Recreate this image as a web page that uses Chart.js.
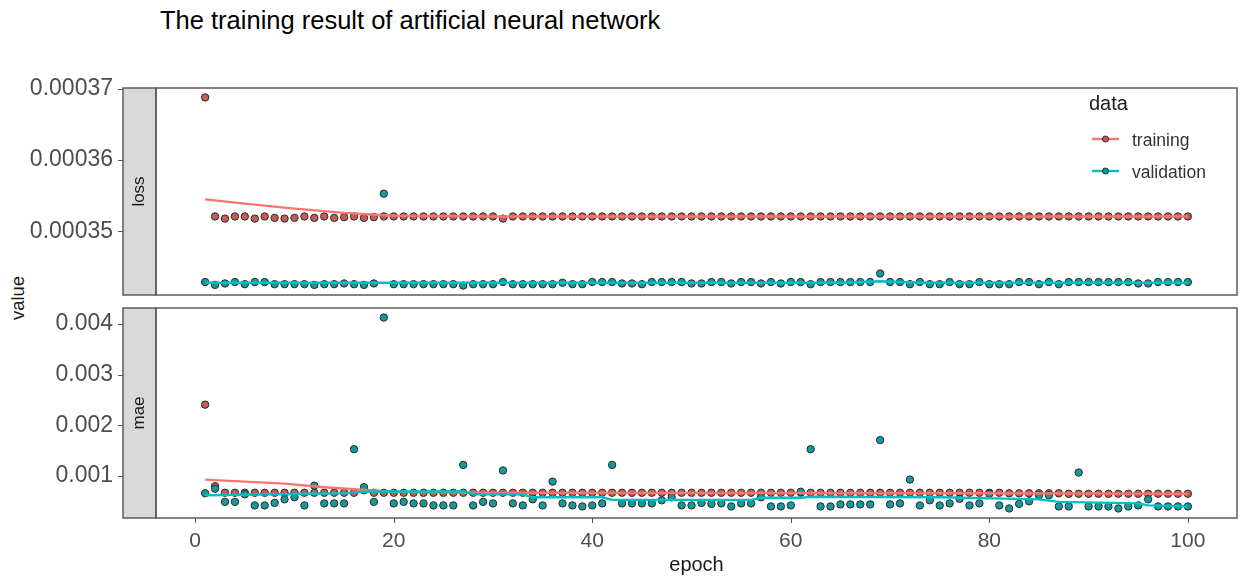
<!DOCTYPE html>
<html><head><meta charset="utf-8">
<script src="https://cdn.jsdelivr.net/npm/chart.js@4/dist/chart.umd.min.js"></script>
<style>
html,body{margin:0;padding:0;background:#fff;width:1242px;height:581px;overflow:hidden;font-family:"Liberation Sans",Arial,sans-serif;}
#title{position:absolute;left:160px;top:5px;font-size:25.5px;line-height:30px;color:#000;white-space:nowrap;}
#ylab{position:absolute;left:18px;top:298px;transform:translate(-50%,-50%) rotate(-90deg);font-size:18.5px;color:#1a1a1a;white-space:nowrap;}
#c1{position:absolute;left:0;top:0;}
#c2{position:absolute;left:0;top:300px;}
</style></head><body>
<div id="title">The training result of artificial neural network</div>
<div id="ylab">value</div>
<canvas id="c1" width="1242" height="300"></canvas>
<canvas id="c2" width="1242" height="281"></canvas>
<script>
const epochs = [1,2,3,4,5,6,7,8,9,10,11,12,13,14,15,16,17,18,19,20,
21,22,23,24,25,26,27,28,29,30,31,32,33,34,35,36,37,38,39,40,
41,42,43,44,45,46,47,48,49,50,51,52,53,54,55,56,57,58,59,60,
61,62,63,64,65,66,67,68,69,70,71,72,73,74,75,76,77,78,79,80,
81,82,83,84,85,86,87,88,89,90,91,92,93,94,95,96,97,98,99,100];

const seriesNames = ['training','validation'];
const panelNames = ['loss','mae'];
const xTicks = [0,20,40,60,80,100];
const lossTicks = [0.00035,0.00036,0.00037];
const lossTickLabels = ['0.00035','0.00036','0.00037'];
const maeTicks = [0.001,0.002,0.003,0.004];
const maeTickLabels = ['0.001','0.002','0.003','0.004'];

const trainLoss = [
0.0003688,0.0003521,0.0003518,0.0003521,0.0003521,0.0003518,0.0003521,0.0003519,0.0003518,0.0003519,
0.0003521,0.0003519,0.0003521,0.0003519,0.0003520,0.0003521,0.0003519,0.0003520,0.0003521,0.0003521,
0.0003521,0.0003521,0.0003521,0.0003521,0.0003521,0.0003521,0.0003521,0.0003521,0.0003521,0.0003521,
0.0003518,0.0003521,0.0003521,0.0003521,0.0003521,0.0003521,0.0003521,0.0003521,0.0003521,0.0003521,
0.0003521,0.0003521,0.0003521,0.0003521,0.0003521,0.0003521,0.0003521,0.0003521,0.0003521,0.0003521,
0.0003521,0.0003521,0.0003521,0.0003521,0.0003521,0.0003521,0.0003521,0.0003521,0.0003521,0.0003521,
0.0003521,0.0003521,0.0003521,0.0003521,0.0003521,0.0003521,0.0003521,0.0003521,0.0003521,0.0003521,
0.0003521,0.0003521,0.0003521,0.0003521,0.0003521,0.0003521,0.0003521,0.0003521,0.0003521,0.0003521,
0.0003521,0.0003521,0.0003521,0.0003521,0.0003521,0.0003521,0.0003521,0.0003521,0.0003521,0.0003521,
0.0003521,0.0003521,0.0003521,0.0003521,0.0003521,0.0003521,0.0003521,0.0003521,0.0003521,0.0003521];

const valLoss = [
0.0003429,0.0003425,0.0003427,0.0003429,0.0003426,0.0003429,0.0003429,0.0003426,0.0003426,0.0003426,
0.0003426,0.0003425,0.0003426,0.0003426,0.0003427,0.0003426,0.0003425,0.0003427,0.0003553,0.0003426,
0.0003426,0.0003426,0.0003426,0.0003426,0.0003426,0.0003426,0.0003424,0.0003426,0.0003426,0.0003426,
0.0003429,0.0003426,0.0003426,0.0003426,0.0003426,0.0003426,0.0003428,0.0003426,0.0003426,0.0003429,
0.0003429,0.0003429,0.0003427,0.0003427,0.0003426,0.0003429,0.0003429,0.0003429,0.0003429,0.0003427,
0.0003427,0.0003429,0.0003429,0.0003427,0.0003429,0.0003429,0.0003427,0.0003429,0.0003427,0.0003429,
0.0003429,0.0003426,0.0003429,0.0003429,0.0003429,0.0003429,0.0003429,0.0003429,0.0003441,0.0003429,
0.0003429,0.0003426,0.0003429,0.0003426,0.0003426,0.0003429,0.0003426,0.0003426,0.0003429,0.0003426,
0.0003426,0.0003426,0.0003429,0.0003429,0.0003426,0.0003429,0.0003426,0.0003429,0.0003429,0.0003429,
0.0003429,0.0003429,0.0003429,0.0003429,0.0003427,0.0003427,0.0003429,0.0003429,0.0003429,0.0003429];

const trainMae = [
0.00241,0.00080,0.00067,0.00067,0.00067,0.00067,0.00067,0.00067,0.00067,0.00067,
0.00067,0.00067,0.00067,0.00067,0.00067,0.00067,0.00072,0.00067,0.00067,0.00067,
0.00067,0.00067,0.00067,0.00067,0.00067,0.00067,0.00067,0.00067,0.00067,0.00067,
0.00067,0.00067,0.00067,0.00067,0.00067,0.00067,0.00067,0.00067,0.00067,0.00067,
0.00067,0.00067,0.00067,0.00067,0.00067,0.00067,0.00067,0.00067,0.00067,0.00067,
0.00067,0.00067,0.00067,0.00067,0.00067,0.00067,0.00067,0.00067,0.00067,0.00067,
0.00067,0.00067,0.00067,0.00067,0.00067,0.00067,0.00067,0.00067,0.00067,0.00067,
0.00067,0.00067,0.00067,0.00067,0.00067,0.00067,0.00067,0.00067,0.00067,0.00067,
0.00067,0.00066,0.00066,0.00066,0.00066,0.00066,0.00066,0.00065,0.00065,0.00065,
0.00065,0.00065,0.00065,0.00065,0.00065,0.00065,0.00065,0.00065,0.00065,0.00065];

const valMae = [
0.00066,0.00075,0.00049,0.00049,0.00064,0.00042,0.00042,0.00047,0.00054,0.00058,
0.00042,0.00081,0.00046,0.00046,0.00046,0.00153,0.00078,0.00049,0.00413,0.00046,
0.00049,0.00046,0.00046,0.00042,0.00042,0.00042,0.00122,0.00042,0.00049,0.00046,
0.00111,0.00046,0.00042,0.00054,0.00042,0.00089,0.00046,0.00042,0.00040,0.00042,
0.00046,0.00122,0.00046,0.00046,0.00046,0.00046,0.00052,0.00058,0.00042,0.00042,
0.00047,0.00045,0.00046,0.00040,0.00046,0.00046,0.00058,0.00040,0.00040,0.00042,
0.00069,0.00153,0.00040,0.00040,0.00044,0.00044,0.00044,0.00044,0.00171,0.00044,
0.00046,0.00093,0.00042,0.00052,0.00042,0.00046,0.00055,0.00042,0.00046,0.00065,
0.00042,0.00036,0.00045,0.00050,0.00062,0.00062,0.00040,0.00040,0.00107,0.00040,
0.00040,0.00040,0.00036,0.00040,0.00042,0.00054,0.00040,0.00040,0.00040,0.00040];

// smoothed trend lines (at selected epochs)
const trainLossSmoothEpochs = [1,5,10,15,20,30,100];
const trainLossSmooth = [0.0003545,0.0003539,0.0003532,0.0003526,0.0003522,0.0003521,0.0003521];
const valLossSmoothEpochs = [1,65,69,73,100];
const valLossSmooth = [0.0003428,0.0003428,0.0003430,0.0003428,0.0003428];
const trainMaeSmoothEpochs = [1,9,13,16,20,30,80,100];
const trainMaeSmooth = [0.00093,0.00085,0.00078,0.00074,0.00069,0.00067,0.00066,0.00065];
const valMaeSmoothEpochs = [1,8,15,17,27,28,33,34,41,42,56,57,61,62,75,85,87,95,96,100];
const valMaeSmooth = [0.00062,0.00064,0.00066,0.00069,0.00070,0.00064,0.00064,0.00058,0.00058,0.00053,0.00053,0.00057,0.00057,0.00059,0.00058,0.00054,0.00049,0.00046,0.00042,0.00040];

const lineColors = ['#F8766D','#00BFC4'];
const pointFills = ['#c65c56','#16999c'];
const pointBorder = '#2a2a2a';
const FONT = '"Liberation Sans", Arial, sans-serif';

function pts(xs, ys){ return xs.map((x,i)=>({x:x, y:ys[i]})); }
function expandRange(arrs){
  let mn=Infinity, mx=-Infinity;
  arrs.forEach(a=>a.forEach(v=>{ if(v<mn)mn=v; if(v>mx)mx=v; }));
  const pad=(mx-mn)*0.05; return {min:mn-pad, max:mx+pad};
}
const xMin = epochs[0] - (epochs[epochs.length-1]-epochs[0])*0.05;
const xMax = epochs[epochs.length-1] + (epochs[epochs.length-1]-epochs[0])*0.05;
const lossRange = expandRange([trainLoss,valLoss,trainLossSmooth,valLossSmooth]);
const maeRange = expandRange([trainMae,valMae,trainMaeSmooth,valMaeSmooth]);

function makeDatasets(tr, va, trS, trSE, vaS, vaSE){
  return [
    {type:'line', data:pts(trSE,trS), borderColor:lineColors[0], borderWidth:2.4, pointRadius:0, fill:false, order:0},
    {type:'line', data:pts(vaSE,vaS), borderColor:lineColors[1], borderWidth:2.4, pointRadius:0, fill:false, order:-1},
    {type:'scatter', data:pts(epochs,tr), backgroundColor:pointFills[0], borderColor:pointBorder, borderWidth:1, pointRadius:3.7, order:2},
    {type:'scatter', data:pts(epochs,va), backgroundColor:pointFills[1], borderColor:pointBorder, borderWidth:1, pointRadius:3.7, order:1}
  ];
}

function decor(label, tickVals, withXTicks, withLegend){
  return {
    id:'decor_'+label,
    afterDraw(chart){
      const ctx=chart.ctx, a=chart.chartArea, ys=chart.scales.y, xs=chart.scales.x;
      const sx=123, sw=a.left-sx, h=a.bottom-a.top;
      ctx.save();
      ctx.fillStyle='#D9D9D9'; ctx.fillRect(sx,a.top,sw,h);
      ctx.strokeStyle='#5c5c5c'; ctx.lineWidth=1.5;
      ctx.strokeRect(sx,a.top,sw,h);
      ctx.strokeRect(a.left,a.top,a.right-a.left,h);
      ctx.lineWidth=1; ctx.strokeStyle='#555';
      tickVals.forEach(v=>{ const y=Math.round(ys.getPixelForValue(v))+0.5; ctx.beginPath(); ctx.moveTo(sx-5,y); ctx.lineTo(sx,y); ctx.stroke(); });
      if(withXTicks){
        xTicks.forEach(v=>{ const x=Math.round(xs.getPixelForValue(v))+0.5; ctx.beginPath(); ctx.moveTo(x,a.bottom); ctx.lineTo(x,a.bottom+5); ctx.stroke(); });
      }
      ctx.translate(sx+sw/2,(a.top+a.bottom)/2); ctx.rotate(-Math.PI/2);
      ctx.fillStyle='#1a1a1a'; ctx.font='17px '+FONT; ctx.textAlign='center'; ctx.textBaseline='middle';
      ctx.fillText(label,0,0);
      ctx.restore();
      if(withLegend){
        ctx.save();
        ctx.fillStyle='#1a1a1a'; ctx.font='20px '+FONT; ctx.textAlign='left'; ctx.textBaseline='middle';
        ctx.fillText('data',1089,104);
        ctx.font='17.5px '+FONT;
        seriesNames.forEach((n,i)=>{
          const y=139+i*32;
          ctx.strokeStyle=lineColors[i]; ctx.lineWidth=2.4;
          ctx.beginPath(); ctx.moveTo(1092,y); ctx.lineTo(1119,y); ctx.stroke();
          ctx.beginPath(); ctx.arc(1105.5,y,3,0,Math.PI*2); ctx.fillStyle=pointFills[i]; ctx.fill();
          ctx.lineWidth=1; ctx.strokeStyle=pointBorder; ctx.stroke();
          ctx.fillStyle='#333'; ctx.fillText(n,1132,y+2);
        });
        ctx.restore();
      }
    }
  };
}

function yScale(range, ticks, labels){
  return {
    type:'linear', min:range.min, max:range.max,
    afterFit(s){ s.width=156; s.paddingTop=0; s.paddingBottom=0; },
    afterBuildTicks(s){ s.ticks = ticks.map(v=>({value:v})); },
    grid:{display:false, drawTicks:false}, border:{display:false},
    ticks:{padding:43, color:'#4d4d4d', font:{size:23, family:FONT}, autoSkip:false,
      callback:(v,i)=>labels[i]}
  };
}

Chart.defaults.animation=false;
new Chart(document.getElementById('c1'), {
  type:'scatter',
  data:{datasets:makeDatasets(trainLoss,valLoss,trainLossSmooth,trainLossSmoothEpochs,valLossSmooth,valLossSmoothEpochs)},
  options:{
    responsive:false, events:[],
    layout:{padding:{top:88,bottom:2,left:0,right:1}},
    plugins:{legend:{display:false}, tooltip:{enabled:false}},
    scales:{
      x:{type:'linear', min:xMin, max:xMax, display:false},
      y:yScale(lossRange, lossTicks, lossTickLabels)
    }
  },
  plugins:[decor(panelNames[0], lossTicks, false, true)]
});

new Chart(document.getElementById('c2'), {
  type:'scatter',
  data:{datasets:makeDatasets(trainMae,valMae,trainMaeSmooth,trainMaeSmoothEpochs,valMaeSmooth,valMaeSmoothEpochs)},
  options:{
    responsive:false, events:[],
    layout:{padding:{top:8,bottom:0,left:0,right:1}},
    plugins:{legend:{display:false}, tooltip:{enabled:false}},
    scales:{
      x:{type:'linear', min:xMin, max:xMax,
        afterFit(s){ s.height=63; },
        afterBuildTicks(s){ s.ticks = xTicks.map(v=>({value:v})); },
        grid:{display:false, drawTicks:false}, border:{display:false},
        ticks:{padding:11, color:'#4d4d4d', font:{size:21, family:FONT}, autoSkip:false, maxRotation:0,
          callback:(v)=>String(v)},
        title:{display:true, text:'epoch', color:'#1a1a1a', font:{size:20, family:FONT}, padding:{top:0,bottom:4}}
      },
      y:yScale(maeRange, maeTicks, maeTickLabels)
    }
  },
  plugins:[decor(panelNames[1], maeTicks, true, false)]
});
</script>
</body></html>
